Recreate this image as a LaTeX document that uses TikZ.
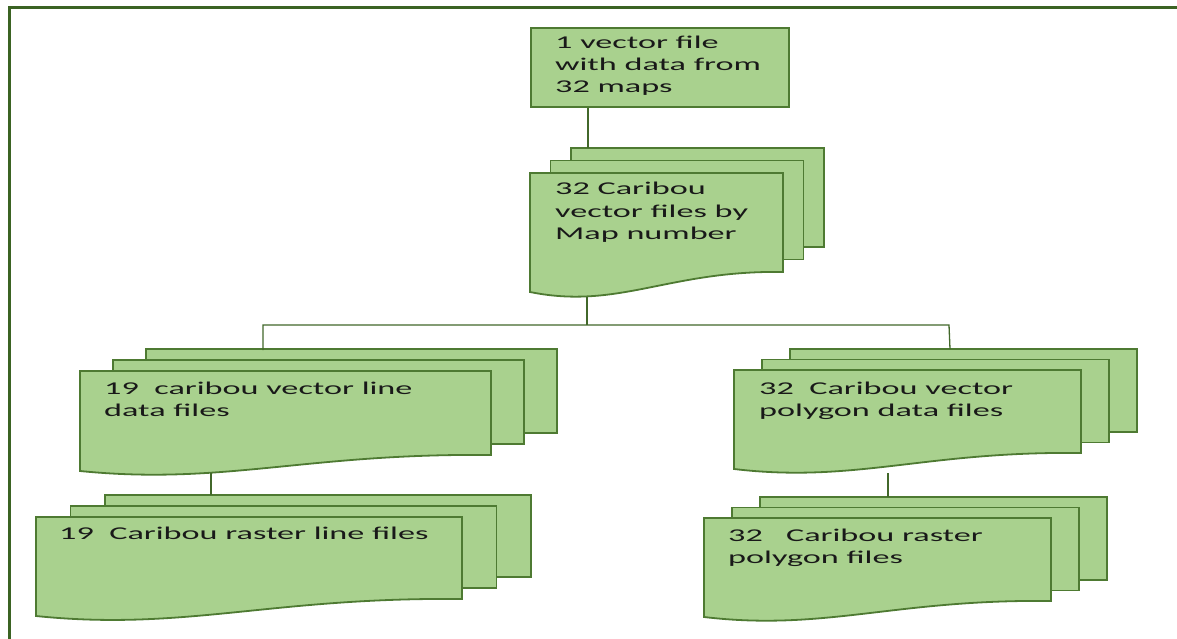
\documentclass[tikz,border=0pt]{standalone}
\usepackage{fontspec}
\newfontfamily\boxfont[FakeStretch=1.9]{Carlito}
\definecolor{sheetfill}{HTML}{A9D18E}
\definecolor{sheetline}{HTML}{4E7A32}
\definecolor{frameline}{HTML}{3B6323}
\tikzset{
  sheet/.style={fill=sheetfill, draw=sheetline, line width=1.8pt, line join=miter},
  conn/.style={draw=sheetline!85!black, line width=1.3pt},
  lbl/.style={inner sep=0pt, align=left, font=\boxfont\fontsize{18}{22}\selectfont, text=black!90},
  frame/.style={draw=frameline, line width=3pt}
}
% L T R B dx dy Lb
\newcommand\docstack[7]{%
  \filldraw[sheet] ({#1+2*#5},{#2+2*#6}) rectangle ({#3+2*#5},{#4+2*#6});
  \filldraw[sheet] ({#1+#5},{#2+#6}) rectangle ({#3+#5},{#4+#6});
  \filldraw[sheet] (#1,#2) -- (#3,#2) -- (#3,#4)
     .. controls ({#3-0.45*(#3-#1)},{#4-2}) and ({#1+0.35*(#3-#1)},{#7+0.9*(#7-#4)}) .. (#1,#7) -- cycle;
}
\begin{document}
\begin{tikzpicture}[x=1pt,y=-1pt]
\useasboundingbox (0,0) rectangle (1177,639);
\fill[white] (0,0) rectangle (1177,639);
\draw[frame] (9,640) -- (9,8) -- (1177,8);

% top box
\node[sheet, anchor=north west, minimum width=258pt, minimum height=79pt, inner sep=0pt] (top) at (530,27) {};
\node[lbl, anchor=base west] (toptext) at (555,93) {1 vector file\\with data from\\32 maps};

% stacks
\docstack{530}{173}{783}{272}{20.5}{-12.5}{292}
\node[lbl, anchor=base west] (s1text) at (555,239) {32 Caribou\\vector files by\\Map number};

\docstack{80}{371}{491}{455}{33}{-11}{471}
\node[lbl, anchor=base west] (lvtext) at (104,416) {19\ \ caribou vector line\\data files};

\docstack{734}{370}{1081}{453}{28}{-10.5}{469}
\node[lbl, anchor=base west] (rvtext) at (759,416) {32\ \ Caribou vector\\polygon data files};

\docstack{36}{517}{462}{599}{34.5}{-11}{616}
\node[lbl, anchor=base west] (lrtext) at (59,539) {19\ \ Caribou raster line files};

\docstack{704}{518}{1051}{601}{28}{-10.5}{617}
\node[lbl, anchor=base west] (rrtext) at (728,563) {32\ \ \ Caribou raster\\polygon files};

% connector points
\coordinate (s1top) at (588,148);
\coordinate (s1bot) at (587,297);
\coordinate (busM) at (587,325);
\coordinate (busL) at (263,325);
\coordinate (busR) at (949,325);
\coordinate (lvtop) at (263,350);
\coordinate (rvtop) at (950,349);
\coordinate (lvbot) at (211,473);
\coordinate (lrtop) at (211,495);
\coordinate (rvbot) at (888,473);
\coordinate (rrtop) at (888,497);

\draw[conn] (top.south -| s1top) -- (s1top);
\draw[conn] (s1bot) -- (busM);
\draw[conn] (lvtop) -- (busL) -- (busR) -- (rvtop);
\draw[conn] (lvbot) -- (lrtop);
\draw[conn] (rvbot) -- (rrtop);
\end{tikzpicture}
\end{document}
